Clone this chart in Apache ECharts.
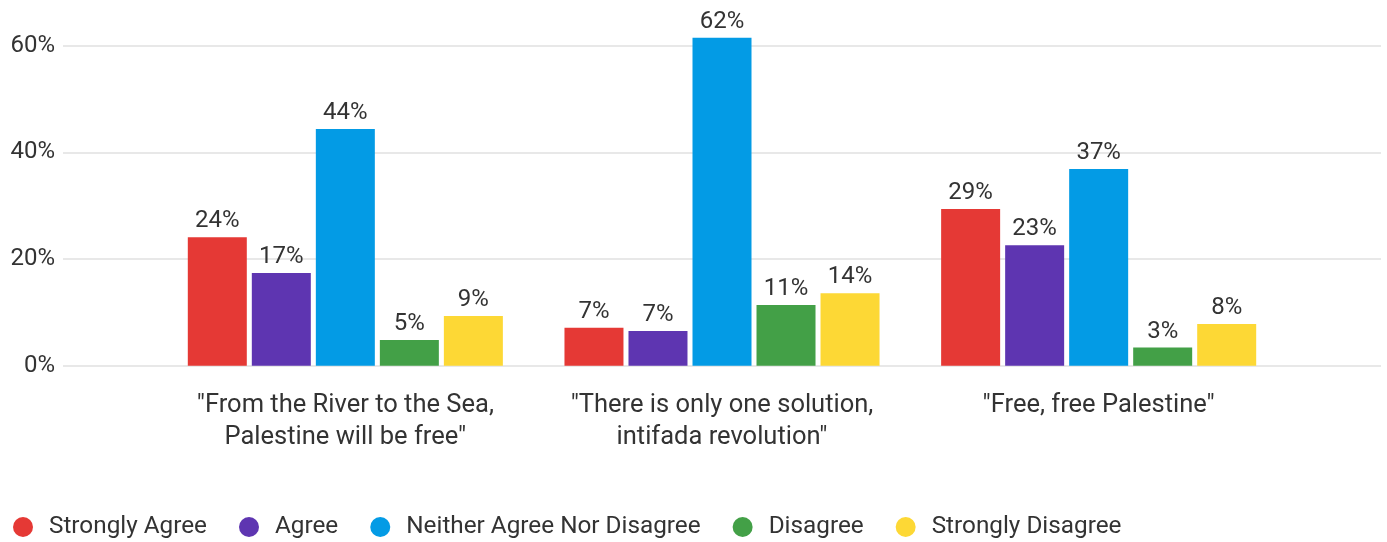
<!DOCTYPE html>
<html>
<head>
<meta charset="utf-8">
<script src="https://cdn.jsdelivr.net/npm/echarts@6/dist/echarts.min.js"></script>
<style>
html,body{margin:0;padding:0;background:#fff;}
#chart{width:1387px;height:542px;}
</style>
</head>
<body>
<div id="chart"></div>
<script>
const categories = ['"From the River to the Sea,\nPalestine will be free"', '"There is only one solution,\nintifada revolution"', '"Free, free Palestine"'];
const seriesNames = ['Strongly Agree', 'Agree', 'Neither Agree Nor Disagree', 'Disagree', 'Strongly Disagree'];
const stronglyAgree = [24.1, 7.1, 29.4];
const agree = [17.4, 6.5, 22.6];
const neither = [44.4, 61.5, 36.9];
const disagree = [4.8, 11.4, 3.4];
const stronglyDisagree = [9.3, 13.6, 7.8];
const yTicks = [0, 20, 40, 60];
const colors = ['#E53935', '#5E35B1', '#039BE5', '#43A047', '#FDD835'];

const values = [stronglyAgree, agree, neither, disagree, stronglyDisagree];
const font = 'Roboto';
const textColor = '#333333';

const chart = echarts.init(document.getElementById('chart'), null, {renderer: 'canvas'});
chart.setOption({
  animation: false,
  color: colors,
  grid: [
    {left: 63, right: 6, top: 45.7, bottom: 176.3, containLabel: false},
    {left: 157, right: 100, top: 45.7, bottom: 176.3, containLabel: false}
  ],
  xAxis: [
    {gridIndex: 0, type: 'value', show: false, min: 0, max: 1},
    {
      gridIndex: 1, type: 'category', data: categories,
      axisLine: {show: false}, axisTick: {show: false},
      axisLabel: {fontFamily: font, fontSize: 25.5, color: textColor, lineHeight: 32, margin: 24, interval: 0}
    }
  ],
  yAxis: [
    {
      gridIndex: 0, type: 'value', min: yTicks[0], max: yTicks[yTicks.length - 1], interval: 20,
      axisLine: {show: false}, axisTick: {show: false},
      axisLabel: {fontFamily: font, fontSize: 24, color: textColor, margin: 8, formatter: v => v + '%'},
      splitLine: {lineStyle: {color: '#e8e8e8', width: 2}}
    },
    {
      gridIndex: 1, type: 'value', min: yTicks[0], max: yTicks[yTicks.length - 1], interval: 20,
      show: false, splitLine: {show: false}
    }
  ],
  legend: {
    left: 8, top: 510,
    icon: 'circle', itemWidth: 20, itemHeight: 20, itemGap: 32,
    textStyle: {fontFamily: font, fontSize: 24.3, color: textColor, padding: [0, 0, 0, 11]},
    data: seriesNames
  },
  series: seriesNames.map((name, i) => ({
    name: name, type: 'bar', xAxisIndex: 1, yAxisIndex: 1, clip: false,
    data: values[i], barWidth: 59, barGap: '8.5%',
    itemStyle: {color: colors[i]},
    label: {show: true, position: 'top', distance: 4, fontFamily: font, fontSize: 24, color: textColor,
      formatter: p => Math.round(p.value) + '%'}
  }))
});
</script>
</body>
</html>
